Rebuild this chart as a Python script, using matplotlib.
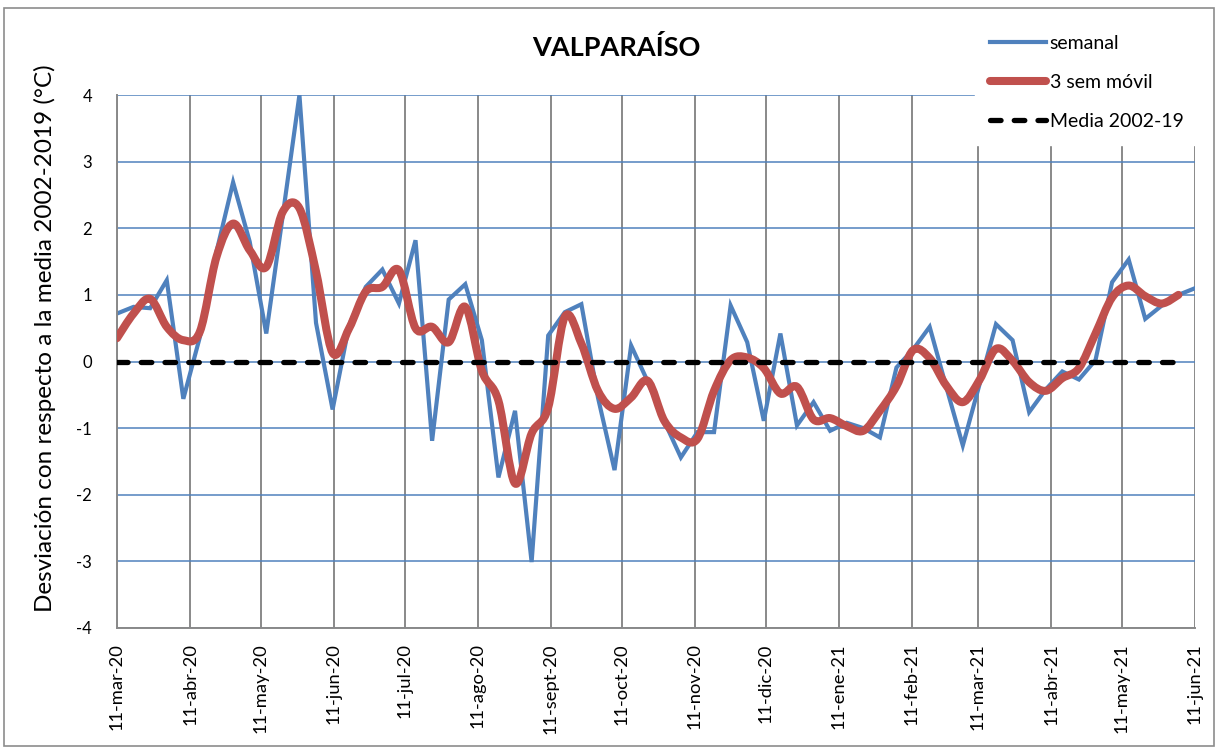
import numpy as np
import pandas as pd
import matplotlib
matplotlib.use('Agg')
import matplotlib.pyplot as plt
import matplotlib.dates as mdates
from matplotlib.path import Path
from matplotlib.patches import PathPatch, Rectangle
from matplotlib.lines import Line2D
from matplotlib.ticker import FuncFormatter, MultipleLocator

plt.rcParams['font.family'] = ['Lato', 'DejaVu Sans']
plt.rcParams['axes.unicode_minus'] = False

# semanas: 66 registros entre 11-mar-20 y 11-jun-21
fechas = pd.date_range('2020-03-11', '2021-06-11', periods=66)

semanal = [0.72, 0.82, 0.80, 1.22, -0.56, 0.37, 1.65, 2.69, 1.80, 0.42,
           2.20, 4.00, 0.58, -0.72, 0.55, 1.12, 1.38, 0.87, 1.82, -1.19,
           0.93, 1.16, 0.32, -1.74, -0.74, -3.01, 0.39, 0.74, 0.86, -0.54,
           -1.63, 0.24, -0.30, -0.90, -1.44, -1.06, -1.06, 0.84, 0.29, -0.89,
           0.42, -0.96, -0.61, -1.04, -0.92, -1.00, -1.14, -0.09, 0.18, 0.52,
           -0.38, -1.26, -0.35, 0.56, 0.32, -0.76, -0.42, -0.15, -0.27, 0.02,
           1.19, 1.53, 0.64, 0.84, 1.00, 1.10]

movil = [0.35, 0.72, 0.94, 0.52, 0.32, 0.45, 1.57, 2.07, 1.67, 1.42,
         2.25, 2.30, 1.35, 0.13, 0.50, 1.05, 1.12, 1.37, 0.50, 0.52,
         0.29, 0.82, -0.14, -0.59, -1.83, -1.08, -0.69, 0.67, 0.27, -0.44,
         -0.71, -0.54, -0.29, -0.89, -1.14, -1.16, -0.44, 0.02, 0.06, -0.10,
         -0.48, -0.38, -0.87, -0.85, -0.97, -1.04, -0.74, -0.37, 0.17, 0.05,
         -0.36, -0.61, -0.28, 0.19, 0.01, -0.31, -0.44, -0.25, -0.10, 0.42,
         0.96, 1.14, 0.98, 0.87, 1.00]

media = [0.0] * 66

meses = {3: 'mar', 4: 'abr', 5: 'may', 6: 'jun', 7: 'jul', 8: 'ago',
         9: 'sept', 10: 'oct', 11: 'nov', 12: 'dic', 1: 'ene', 2: 'feb'}

azul = '#4F81BD'
rojo = '#C0504D'
gris = '#898989'

fig = plt.figure(figsize=(12.2, 7.5), dpi=100)
ax = fig.add_axes([117/1220, 1-628/750, (1195-117)/1220, (628-95)/750])

ax.plot(fechas, semanal, color=azul, lw=3.0, solid_joinstyle='miter', zorder=2)

# linea suavizada (como Excel) con curvas Bezier
xr = mdates.date2num(fechas[:len(movil)])
pts = np.column_stack([xr, movil])
verts = [pts[0]]
codes = [Path.MOVETO]
for i in range(len(pts)-1):
    p0 = pts[max(i-1, 0)]
    p1 = pts[i]
    p2 = pts[i+1]
    p3 = pts[min(i+2, len(pts)-1)]
    verts += [p1 + (p2-p0)/6, p2 - (p3-p1)/6, p2]
    codes += [Path.CURVE4]*3
ax.add_patch(PathPatch(Path(verts, codes), fill=False, edgecolor=rojo, lw=5.8,
                       capstyle='round', joinstyle='round', zorder=3))

ax.plot(fechas[:-1], media[:-1], color='black', lw=3.8, dashes=(2, 2.5),
        dash_capstyle='round', zorder=4)

ax.set_xlim(pd.Timestamp('2020-03-11'), pd.Timestamp('2021-06-11'))
ax.set_ylim(-4, 4)
ax.yaxis.set_major_locator(MultipleLocator(1))
ax.xaxis.set_major_locator(mdates.MonthLocator(bymonthday=11))
ax.xaxis.set_major_formatter(FuncFormatter(
    lambda v, p: '11-%s-%s' % (meses[mdates.num2date(v).month], mdates.num2date(v).strftime('%y'))))

ax.grid(axis='y', color=azul, lw=1.1)
ax.grid(axis='x', color=gris, lw=1.4)
ax.set_axisbelow(True)
for s in ['top', 'right']:
    ax.spines[s].set_visible(False)
for s in ['left', 'bottom']:
    ax.spines[s].set_color(gris)
    ax.spines[s].set_linewidth(1.4)
ax.tick_params(axis='both', length=0)
ax.tick_params(axis='x', labelrotation=90, labelsize=13.2, pad=11)
ax.tick_params(axis='y', labelsize=12, pad=18)

fig.text(45/1220, 1-338/750, 'Desviación con respecto a la media 2002-2019 (°C)',
         rotation=90, ha='center', va='center', fontsize=17.5)
fig.text(616/1220, 1-47/750, 'VALPARAÍSO', ha='center', va='center',
         fontsize=19.5, fontweight='bold')

handles = [Line2D([], [], color=azul, lw=3.0),
           Line2D([], [], color=rojo, lw=5.8, solid_capstyle='round'),
           Line2D([], [], color='black', lw=3.8, dashes=(2, 2.5), dash_capstyle='round')]
fig.legend(handles, ['semanal', '3 sem móvil', 'Media 2002-19'], loc='upper left',
           bbox_to_anchor=(975/1220, 1-20/750), frameon=True, facecolor='white',
           edgecolor='white', framealpha=1, fancybox=False, fontsize=14,
           handlelength=2.9, handletextpad=0.2, labelspacing=1.15, borderpad=0.75,
           borderaxespad=0)

fig.patches.append(Rectangle((4/1220, 4/750), 1210/1220, 738/750, transform=fig.transFigure,
                             fill=False, edgecolor='#8c8c8c', lw=1.2))

fig.savefig('out.png', dpi=100)
